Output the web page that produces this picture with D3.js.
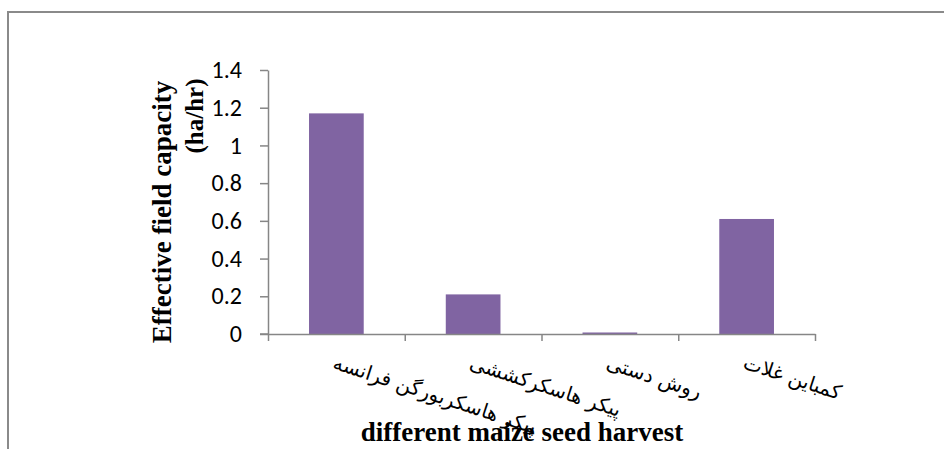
<!DOCTYPE html>
<html><head><meta charset="utf-8">
<script src="https://cdn.jsdelivr.net/npm/d3@7"></script>
<style>
html,body{margin:0;padding:0;background:#fff;}
svg{display:block;}
</style></head>
<body>
<svg id="chart" width="944" height="449"></svg>
<script>
const categories = ["پیکر هاسکربورگن فرانسه", "پیکر هاسکرکششی", "روش دستی", "کمباین غلات"];
const values = [1.17, 0.21, 0.008, 0.61];
const yTickValues = [0, 0.2, 0.4, 0.6, 0.8, 1, 1.2, 1.4];
const yTickLabels = ["0", "0.2", "0.4", "0.6", "0.8", "1", "1.2", "1.4"];
const yTitleLines = ["Effective field capacity", "(ha/hr)"];
const xTitle = "different maize seed harvest";

(function () {
const svg = d3.select("#chart");
const axisColor = "#868686";
const pLeft = 268, pRight = 815, pTop = 70, pBottom = 334;

// outer frame
svg.append("rect").attr("x", 8).attr("y", 12).attr("width", 960).attr("height", 460)
  .attr("fill", "none").attr("stroke", "#8a8a8a").attr("stroke-width", 2);

const x = d3.scaleBand().domain(categories).range([pLeft, pRight]).paddingInner(0.6).paddingOuter(0.3);
const xb = d3.scaleLinear().domain([0, categories.length]).range([pLeft, pRight]);
const y = d3.scaleLinear().domain([0, 1.4]).range([pBottom, pTop]);

// bars
svg.append("g").selectAll("rect").data(categories).join("rect")
  .attr("x", d => x(d)).attr("width", x.bandwidth())
  .attr("y", (d, i) => y(values[i])).attr("height", (d, i) => y(0) - y(values[i]))
  .attr("fill", "#8064a2");

// y axis
const yAxis = svg.append("g").attr("transform", `translate(${pLeft},0)`)
  .call(d3.axisLeft(y).tickValues(yTickValues).tickFormat((d, i) => yTickLabels[i])
    .tickSize(8).tickSizeOuter(0).tickPadding(18));
yAxis.select(".domain").attr("stroke", axisColor).attr("stroke-width", 1.5);
yAxis.selectAll(".tick line").attr("stroke", axisColor).attr("stroke-width", 1.5);
yAxis.selectAll(".tick text").attr("fill", "#000").attr("font-family", "Carlito, Calibri, 'Liberation Sans', Arial, sans-serif")
  .attr("font-size", 24);

// x axis (category boundary ticks)
const xAxis = svg.append("g").attr("transform", `translate(0,${pBottom})`)
  .call(d3.axisBottom(xb).tickValues(d3.range(categories.length + 1)).tickFormat("")
    .tickSize(7).tickSizeOuter(0));
xAxis.select(".domain").attr("stroke", axisColor).attr("stroke-width", 1.5);
xAxis.selectAll(".tick line").attr("stroke", axisColor).attr("stroke-width", 1.5);
svg.append("line").attr("x1", pLeft - 8).attr("x2", pLeft).attr("y1", y(0)).attr("y2", y(0))
  .attr("stroke", axisColor).attr("stroke-width", 1.5);

// category labels (rotated)
svg.append("g").selectAll("text").data(categories).join("text")
  .attr("transform", d => `translate(${x(d) + x.bandwidth() / 2},354) rotate(18)`)
  .attr("dy", "0.75em")
  .attr("text-anchor", "start")
  .attr("font-family", "'DejaVu Sans', sans-serif")
  .attr("font-size", 20)
  .attr("fill", "#000")
  .text(d => d);

// y title
svg.append("text").attr("transform", "translate(171,212) rotate(-90)")
  .attr("text-anchor", "middle").attr("font-family", "'Liberation Serif', 'Times New Roman', serif")
  .attr("font-weight", "bold").attr("font-size", 27).attr("fill", "#000").text(yTitleLines[0]);
svg.append("text").attr("transform", "translate(203,116) rotate(-90)")
  .attr("text-anchor", "middle").attr("font-family", "'Liberation Serif', 'Times New Roman', serif")
  .attr("font-weight", "bold").attr("font-size", 25).attr("fill", "#000").text(yTitleLines[1]);

// x title
svg.append("text").attr("x", 522).attr("y", 441)
  .attr("text-anchor", "middle").attr("font-family", "'Liberation Serif', 'Times New Roman', serif")
  .attr("font-weight", "bold").attr("font-size", 27).attr("fill", "#000").text(xTitle);
})();
</script>
</body></html>
